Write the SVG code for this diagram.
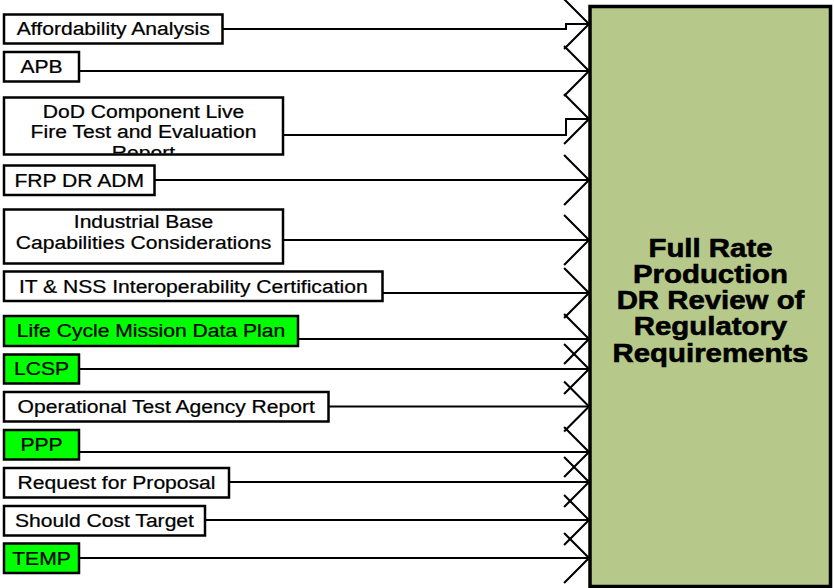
<svg xmlns="http://www.w3.org/2000/svg" width="834" height="588" viewBox="0 0 834 588">
  <style>
    .box { stroke: #000; stroke-width: 2.5; }
    .w { fill: #fff; }
    .g { fill: #00ff00; }
    .lbl { font-family: "Liberation Sans", Arial, sans-serif; font-size: 19px; fill: #000; stroke: #000; stroke-width: 0.25; text-anchor: middle; }
    .title { font-family: "Liberation Sans", Arial, sans-serif; font-size: 26px; font-weight: bold; fill: #000; stroke: #000; stroke-width: 0.6; text-anchor: middle; }
    .conn { fill: none; stroke: #000; stroke-width: 2; marker-end: url(#arr); }
  </style>
  <defs>
    <marker id="arr" markerUnits="userSpaceOnUse" markerWidth="30" markerHeight="54" viewBox="-26 -26 28 52" refX="0" refY="0" orient="auto" overflow="visible">
      <path d="M-24,-24 L0,0 L-24,24" fill="none" stroke="#000" stroke-width="2"/>
    </marker>
    <clipPath id="clipDoD"><rect x="5" y="98.5" width="277" height="55"/></clipPath>
  </defs>

  <rect width="834" height="588" fill="#fff"/>

  <g id="connectors">
    <path class="conn" d="M222.5,29 H566 V24 H589"/>
    <path class="conn" d="M79,71 H589"/>
    <path class="conn" d="M283,135 H566 V119 H589"/>
    <path class="conn" d="M154.5,180 H589"/>
    <path class="conn" d="M283,240 H589"/>
    <path class="conn" d="M382.5,293 H589"/>
    <path class="conn" d="M298,339 H589"/>
    <path class="conn" d="M79,369 H589"/>
    <path class="conn" d="M328.5,406.5 H589"/>
    <path class="conn" d="M79,452 H589"/>
    <path class="conn" d="M229,482 H589"/>
    <path class="conn" d="M205,520 H589"/>
    <path class="conn" d="M79,558 H589"/>
  </g>

  <g id="n1">
    <rect class="box w" x="4" y="14.5" width="218.5" height="29"/>
    <text class="lbl" transform="translate(113.25,34.5) scale(1.11,1)">Affordability Analysis</text>
  </g>
  <g id="n2">
    <rect class="box w" x="4" y="52" width="75" height="29.5"/>
    <text class="lbl" transform="translate(41.5,73.3) scale(1.11,1)">APB</text>
  </g>
  <g id="n3">
    <rect class="box w" x="4" y="97.5" width="279" height="57"/>
    <g clip-path="url(#clipDoD)">
      <text class="lbl" transform="translate(143.5,118) scale(1.11,1)">DoD Component Live</text>
      <text class="lbl" transform="translate(143.5,138.3) scale(1.11,1)">Fire Test and Evaluation</text>
      <text class="lbl" transform="translate(143.5,158.6) scale(1.11,1)">Report</text>
    </g>
  </g>
  <g id="n4">
    <rect class="box w" x="4" y="165.5" width="150.5" height="29.5"/>
    <text class="lbl" transform="translate(79.25,186.7) scale(1.11,1)">FRP DR ADM</text>
  </g>
  <g id="n5">
    <rect class="box w" x="4" y="209.5" width="279" height="54"/>
    <text class="lbl" transform="translate(143.5,228.3) scale(1.11,1)">Industrial Base</text>
    <text class="lbl" transform="translate(143.5,249.3) scale(1.11,1)">Capabilities Considerations</text>
  </g>
  <g id="n6">
    <rect class="box w" x="4" y="271.5" width="378.5" height="29.5"/>
    <text class="lbl" transform="translate(193.25,292.7) scale(1.11,1)">IT &amp; NSS Interoperability Certification</text>
  </g>
  <g id="n7">
    <rect class="box g" x="4" y="316" width="294" height="30"/>
    <text class="lbl" transform="translate(151,336.7) scale(1.11,1)">Life Cycle Mission Data Plan</text>
  </g>
  <g id="n8">
    <rect class="box g" x="4" y="354.5" width="75" height="29"/>
    <text class="lbl" transform="translate(41.5,375) scale(1.11,1)">LCSP</text>
  </g>
  <g id="n9">
    <rect class="box w" x="4" y="392" width="324.5" height="29.5"/>
    <text class="lbl" transform="translate(166.25,413) scale(1.11,1)">Operational Test Agency Report</text>
  </g>
  <g id="n10">
    <rect class="box g" x="4" y="430" width="75" height="29.5"/>
    <text class="lbl" transform="translate(41.5,450.8) scale(1.11,1)">PPP</text>
  </g>
  <g id="n11">
    <rect class="box w" x="4" y="468" width="225" height="29.5"/>
    <text class="lbl" transform="translate(116.5,489) scale(1.11,1)">Request for Proposal</text>
  </g>
  <g id="n12">
    <rect class="box w" x="4" y="506" width="201" height="29.5"/>
    <text class="lbl" transform="translate(104.5,527) scale(1.11,1)">Should Cost Target</text>
  </g>
  <g id="n13">
    <rect class="box g" x="4" y="543.5" width="75" height="29.5"/>
    <text class="lbl" transform="translate(41.5,565) scale(1.11,1)">TEMP</text>
  </g>

  <g id="main">
    <rect x="590" y="6.5" width="240.5" height="580" fill="#b6c98a" stroke="#000" stroke-width="3.5"/>
    <text class="title" transform="translate(710.5,256.7) scale(1.13,1)">Full Rate</text>
    <text class="title" transform="translate(710.5,282.9) scale(1.13,1)">Production</text>
    <text class="title" transform="translate(710.5,309.1) scale(1.13,1)">DR Review of</text>
    <text class="title" transform="translate(710.5,335.3) scale(1.13,1)">Regulatory</text>
    <text class="title" transform="translate(710.5,361.5) scale(1.13,1)">Requirements</text>
  </g>
</svg>
